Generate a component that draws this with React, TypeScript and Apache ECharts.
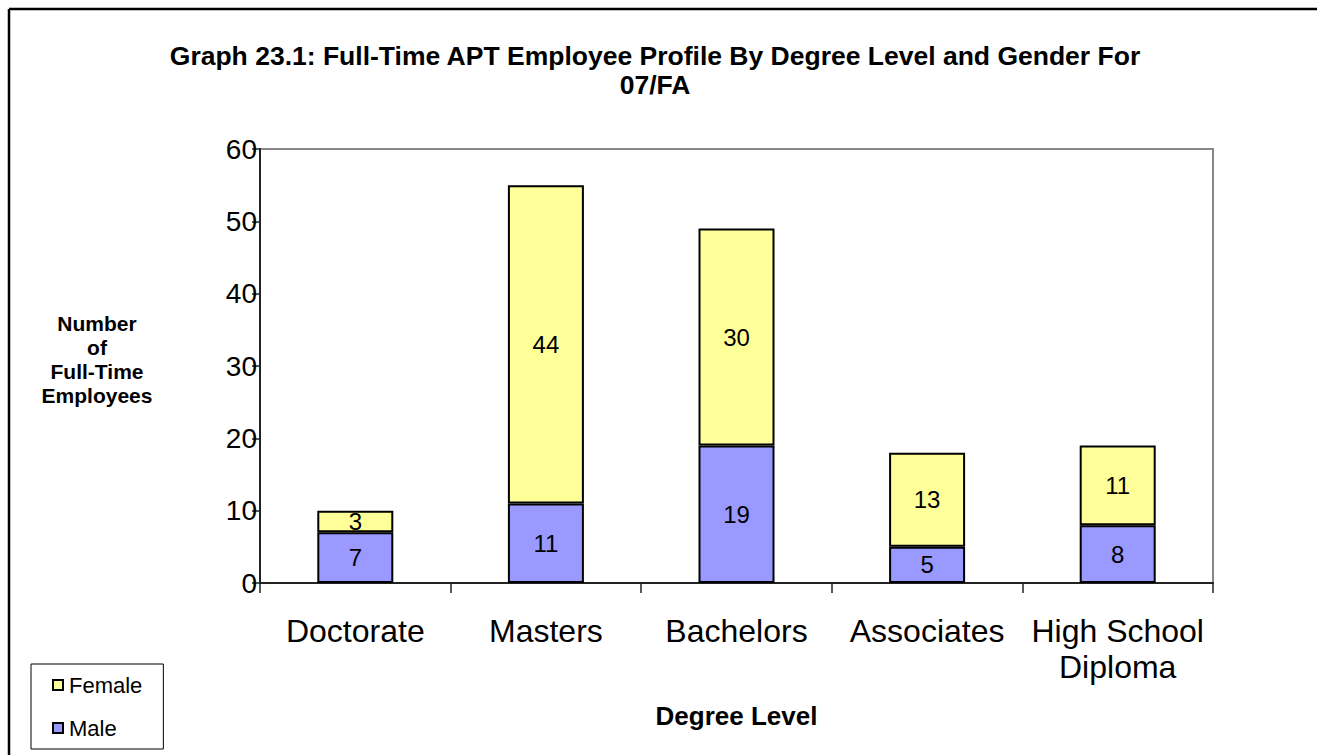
import React, { useEffect, useRef } from "react";
import * as echarts from "echarts";

const categories = ["Doctorate", "Masters", "Bachelors", "Associates", "High School\nDiploma"];
const maleValues = [7, 11, 19, 5, 8];
const femaleValues = [3, 44, 30, 13, 11];
const yTicks = { min: 0, max: 60, interval: 10 };

export default function App() {
  const ref = useRef<HTMLDivElement>(null);
  useEffect(() => {
    if (!ref.current) return;
    const chart = echarts.init(ref.current, null, { renderer: "svg" });
    const font = "Liberation Sans, Arial, sans-serif";
    chart.setOption({
      animation: false,
      backgroundColor: "#fff",
      textStyle: { fontFamily: font },
      title: {
        text: "Graph 23.1: Full-Time APT Employee Profile By Degree Level and Gender For\n07/FA",
        left: 650,
        top: 36,
        textAlign: "center",
        textStyle: { fontFamily: font, fontSize: 26.5, fontWeight: "bold", color: "#000", lineHeight: 29 },
      },
      grid: {
        left: 260, top: 149, width: 953, height: 434,
        show: true, borderColor: "#888", borderWidth: 2, containLabel: false,
      },
      legend: {
        data: ["Female", "Male"],
        orient: "vertical",
        left: 31,
        top: 664,
        padding: [10, 21, 10, 21],
        itemGap: 21,
        itemWidth: 10,
        itemHeight: 10,
        icon: "rect",
        borderColor: "#000",
        borderWidth: 1,
        itemStyle: { borderColor: "#000", borderWidth: 2 },
        textStyle: { fontFamily: font, fontSize: 22, color: "#000", padding: [0, 0, 0, 1] },
      },
      xAxis: {
        type: "category",
        data: categories,
        name: "Degree Level",
        nameLocation: "middle",
        nameGap: 120,
        nameTextStyle: { fontFamily: font, fontSize: 26, fontWeight: "bold", color: "#000" },
        axisLine: { lineStyle: { color: "#222", width: 2 } },
        axisTick: { show: true, length: 10, lineStyle: { color: "#222", width: 1.5 } },
        axisLabel: { fontFamily: font, fontSize: 32, color: "#000", margin: 30, lineHeight: 36, interval: 0 },
      },
      yAxis: {
        type: "value",
        min: yTicks.min,
        max: yTicks.max,
        interval: yTicks.interval,
        axisLine: { show: true, lineStyle: { color: "#222", width: 2 } },
        axisTick: { show: true, length: 8, lineStyle: { color: "#222", width: 1.5 } },
        splitLine: { show: false },
        axisLabel: { fontFamily: font, fontSize: 28, color: "#000", margin: 3 },
      },
      graphic: [
        { type: "line", shape: { x1: 9, y1: 9, x2: 1317, y2: 9 }, style: { stroke: "#000", lineWidth: 2.5 } },
        { type: "line", shape: { x1: 9, y1: 9, x2: 9, y2: 755 }, style: { stroke: "#000", lineWidth: 2.5 } },
        {
          type: "text",
          x: 97,
          y: 311,
          style: {
            text: "Number\nof\nFull-Time\nEmployees",
            align: "center",
            verticalAlign: "top",
            fontFamily: font,
            fontSize: 21,
            fontWeight: "bold",
            lineHeight: 24,
            fill: "#000",
          },
        },
      ],
      series: [
        {
          name: "Male",
          type: "bar",
          stack: "total",
          data: maleValues,
          barWidth: 76,
          itemStyle: { color: "#9999FF", borderColor: "#000", borderWidth: 2 },
          label: { show: true, position: "inside", color: "#000", fontSize: 24, fontFamily: font },
        },
        {
          name: "Female",
          type: "bar",
          stack: "total",
          data: femaleValues,
          barWidth: 76,
          itemStyle: { color: "#FFFF99", borderColor: "#000", borderWidth: 2 },
          label: { show: true, position: "inside", color: "#000", fontSize: 24, fontFamily: font },
        },
      ],
    });
    return () => chart.dispose();
  }, []);
  return <div ref={ref} style={{ position: "fixed", left: 0, top: 0, width: 1317, height: 755 }} />;
}
